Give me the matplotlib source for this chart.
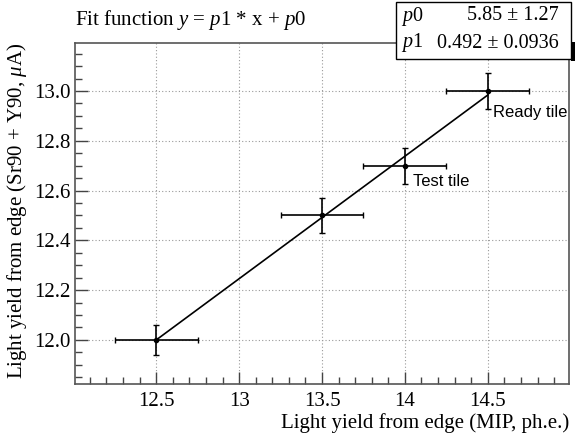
import matplotlib
matplotlib.use("Agg")
import matplotlib.pyplot as plt
from matplotlib.ticker import MultipleLocator, FixedLocator
from matplotlib.patches import Rectangle
import numpy as np

# data
x_vals = [12.5, 13.5, 14.0, 14.5]
y_vals = [12.0, 12.5, 12.7, 13.0]
x_err = [0.25, 0.25, 0.25, 0.25]
y_err = [0.062, 0.07, 0.072, 0.073]
p0, p0_err = 5.85, 1.27
p1, p1_err = 0.492, 0.0936
labels = {"Ready tile": (14.5, 13.0), "Test tile": (14.0, 12.7)}
xticks = [12.5, 13.0, 13.5, 14.0, 14.5, 15.0]
xtick_labels = ["12.5", "13", "13.5", "14", "14.5", "15"]
yticks = [12.0, 12.2, 12.4, 12.6, 12.8, 13.0]

plt.rcParams['font.family'] = ['Liberation Serif', 'DejaVu Serif']
plt.rcParams['mathtext.fontset'] = 'custom'
plt.rcParams['mathtext.rm'] = 'Liberation Serif'
plt.rcParams['mathtext.it'] = 'Liberation Serif:italic'

fig = plt.figure(figsize=(5.75, 4.38), dpi=100)
ax = fig.add_axes([75/575, 1-384/438, (569-75)/575, (384-43)/438])

ax.set_xlim(12.01, 14.99)
ax.set_ylim(11.823, 13.193)

ax.grid(True, which='major', linestyle=(0, (1, 2)), color='#999999', linewidth=0.8)
ax.set_axisbelow(True)

# fit line over the data range
xf = np.array([min(x_vals), max(x_vals)])
ax.plot(xf, p1 * xf + p0, color='black', linewidth=1.2)

ax.errorbar(x_vals, y_vals, xerr=x_err, yerr=y_err, fmt='o', color='black',
            markersize=3, elinewidth=1.2, capsize=2, capthick=1)

ax.xaxis.set_major_locator(FixedLocator(xticks))
ax.set_xticklabels(xtick_labels)
ax.xaxis.set_minor_locator(MultipleLocator(0.1))
ax.yaxis.set_major_locator(FixedLocator(yticks))
ax.set_yticklabels([f"{v:.1f}" for v in yticks])
ax.yaxis.set_minor_locator(MultipleLocator(0.05))

ax.tick_params(which='both', direction='in', top=False, right=False, colors='#444444',
               labelcolor='black', labelsize=15)
ax.tick_params(which='major', length=9, width=1)
ax.tick_params(which='minor', length=5, width=1)
ax.tick_params(axis='x', pad=6)
ax.tick_params(axis='y', pad=3)
for s in ax.spines.values():
    s.set_color('#555555')
    s.set_linewidth(1.2)

ax.set_xlabel("Light yield from edge (MIP, ph.e.)", fontsize=15, loc='right', labelpad=1)
ax.set_ylabel(r"Light yield from edge (Sr90 + Y90, $\mu$A)", fontsize=15, loc='top', labelpad=4)

# annotations
ax.annotate("Ready tile", xy=labels["Ready tile"], xytext=(4, -10), textcoords='offset points',
            ha='left', va='top', fontsize=12, family='Liberation Sans')
ax.annotate("Test tile", xy=labels["Test tile"], xytext=(6, -6), textcoords='offset points',
            ha='left', va='top', fontsize=12, family='Liberation Sans')

# title
fig.text(75/575, 1-20/438, r"Fit function $y$ = $p$1 * x + $p$0", fontsize=15,
         ha='left', va='center')

# stats box with shadow
bx0, by0, bx1, by1 = 396, 2, 571, 59
fig.patches.append(Rectangle((bx1/575, 1-61/438), 5/575, 19/438,
                             transform=fig.transFigure, facecolor='black', edgecolor='none', zorder=5))
fig.patches.append(Rectangle((bx0/575, 1-by1/438), (bx1-bx0)/575, (by1-by0)/438,
                             transform=fig.transFigure, facecolor='white', edgecolor='black',
                             linewidth=1, zorder=6))
fig.text(401/575, 1-16/438, r"$p$0", fontsize=14.5, ha='left', va='center', zorder=7)
fig.text(559/575, 1-16/438, f"{p0:.2f} ± {p0_err:.2f}", fontsize=14.5, ha='right', va='center', zorder=7)
fig.text(401/575, 1-43/438, r"$p$1", fontsize=14.5, ha='left', va='center', zorder=7)
fig.text(559/575, 1-43/438, f"{p1:.3f} ± {p1_err:.4f}", fontsize=14.5, ha='right', va='center', zorder=7)

fig.savefig("out.png", dpi=100)
